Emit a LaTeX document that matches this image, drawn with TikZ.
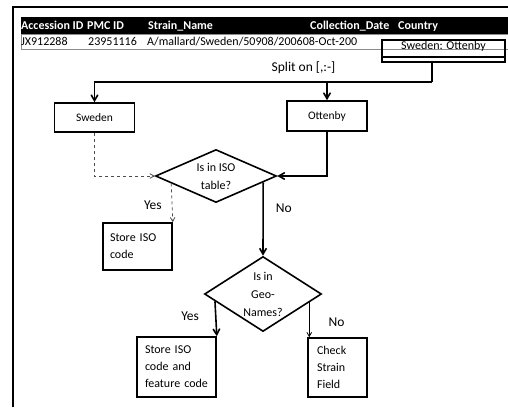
\documentclass[tikz,border=0pt]{standalone}
\usepackage{fontspec}
\setmainfont{Carlito}
\usetikzlibrary{shapes.geometric, arrows, positioning, calc}

\begin{document}
\begin{tikzpicture}[x=1pt, y=-1pt, font=\fontsize{12}{17}\selectfont]
    \tikzstyle{box} = [rectangle, draw=black, line width=1.6pt, inner sep=0pt]
    \tikzstyle{textbox} = [rectangle, draw=black, line width=1.6pt, align=left, inner ysep=0pt]
    \tikzstyle{decision} = [diamond, draw=black, line width=1.6pt, align=center, inner sep=0pt, font=\fontsize{12}{18}\selectfont]
    \tikzstyle{hdr} = [anchor=base west, text=white, inner sep=0pt, font=\fontsize{12}{14}\selectfont\bfseries]
    \tikzstyle{cell} = [anchor=base west, inner sep=0pt]
    \tikzstyle{lbl} = [inner sep=0pt, text=black, font=\fontsize{13.5}{16}\selectfont]
    \tikzstyle{arrow} = [line width=1.6pt,->,>=angle 60]
    \tikzstyle{thinarrow} = [line width=0.8pt,->,>=angle 60]
    \tikzstyle{dasharrow} = [line width=0.8pt,black!70,dashed,->,>=angle 60]

    \useasboundingbox (0,0) rectangle (508,407);
    \draw[line width=2.5pt] (13,407) -- (13,7) -- (508,7);

    % table
    \fill[black] (21,17) rectangle (508,34);
    \draw[black!45, line width=0.6pt] (21,34) rectangle (508,49);
    \node (hacc) [hdr] at (21,29.5) {Accession ID};
    \node (hpmc) [hdr] at (87,29.5) {PMC ID};
    \node (hstrain) [hdr] at (148,29.5) {Strain\_Name};
    \node (hdate) [hdr] at (310,29.5) {Collection\_Date};
    \node (hcountry) [hdr] at (398,29.5) {Country};
    \node (acc) [cell] at (21,45) {JX912288};
    \node (pmc) [cell] at (88,45) {23951116};
    \node (strain) [cell] at (147,45) {A/mallard/Sweden/50908/200608-Oct-200};
    \node (country) [box, minimum width=123pt, text height=9pt, text depth=13pt, anchor=base] at (443.5,49) {Sweden: Ottenby};
    \draw[line width=1.6pt] ([yshift=6pt]country.south west) -- ([yshift=6pt]country.south east);

    % split
    \coordinate (split) at (432,82);
    \node (splitlbl) [lbl] at (303.5,68) {Split on [,:-]};
    \node (sweden) [box, minimum width=80pt, minimum height=29pt, font=\fontsize{11.5}{14}\selectfont] at (94.5,117.5) {Sweden};
    \node (ottenby) [box, minimum width=80pt, minimum height=30pt, font=\fontsize{11.5}{14}\selectfont] at (327,116) {Ottenby};

    % decisions
    \node (iso) [decision, minimum width=121pt, minimum height=53pt, aspect=2.3] at (216,176) {Is in ISO\\table?};
    \node (geo) [decision, minimum width=117pt, minimum height=75pt, aspect=1.6] at (263,294) {Is in\\Geo-\\Names?};

    \node (storeiso) [textbox, minimum width=69pt, minimum height=47pt, text width=55pt, inner xsep=7pt] at (137.5,246.5) {Store ISO\\code};
    \node (storefeat) [textbox, minimum width=79pt, minimum height=60pt, text width=63pt, inner xsep=8pt] at (176.5,367) {Store ISO\\code and\\feature code};
    \node (check) [textbox, minimum width=59pt, minimum height=59pt, text width=41pt, inner xsep=9pt] at (337.5,367.5) {Check\\Strain\\Field};

    \draw [line width=1.6pt] (country.south -| split) -- (split);
    \draw [arrow] (split) -| (sweden.north);
    \draw [arrow] (split -| ottenby.north) -- (ottenby.north);
    \draw [arrow] (ottenby.south) |- (iso.east);
    \draw [dasharrow] (sweden.south) |- (iso.west);
    \draw [dasharrow] ($(iso.west)!0.27!(iso.south)$) -- node (yes1) [lbl, pos=0.55, left=10pt] {Yes} (storeiso.north east);
    \draw [arrow] ($(iso.south)!0.77!(iso.east)$) -- node (no1) [lbl, pos=0.36, right=12pt] {No} (geo.north);
    \draw [arrow] ($(geo.west)!0.19!(geo.south)$) -- node (yes2) [lbl, pos=0.42, left=16pt] {Yes} (storefeat.north east);
    \coordinate (nostart) at ($(geo.south)!0.78!(geo.east)$);
    \draw [thinarrow] (nostart) -- node (no2) [lbl, pos=0.58, right=19pt] {No} (nostart |- check.north);
\end{tikzpicture}
\end{document}
